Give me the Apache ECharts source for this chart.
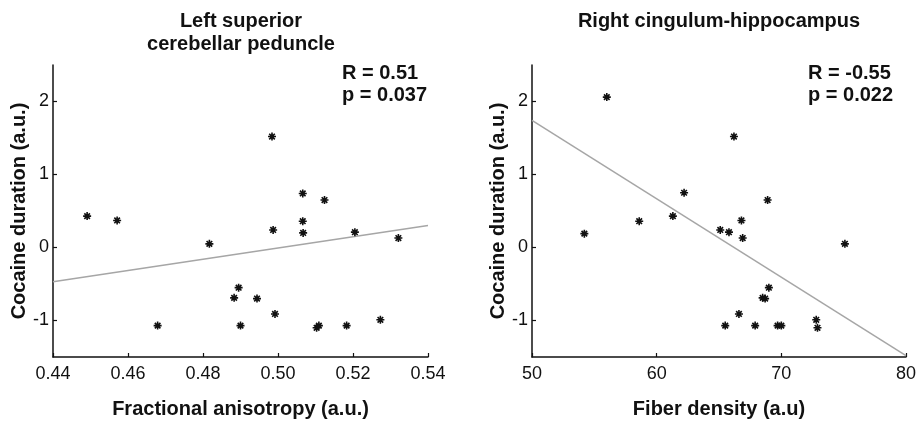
<!DOCTYPE html>
<html>
<head>
<meta charset="utf-8">
<script src="https://cdn.jsdelivr.net/npm/echarts@6/dist/echarts.min.js"></script>
<style>
  html, body { margin: 0; padding: 0; background: #fff; }
  #chart { width: 919px; height: 424px; }
</style>
</head>
<body>
<div id="chart"></div>
<script>
// left panel: fractional anisotropy vs cocaine duration
const faX = [0.4491, 0.4571, 0.4679, 0.4817, 0.4984, 0.4987, 0.4895, 0.4883, 0.4944, 0.4900, 0.4992,
  0.5066, 0.5066, 0.5067, 0.5124, 0.5205, 0.5321, 0.5103, 0.5109, 0.5183, 0.5273]
const faY = [0.43, 0.37, -1.07, 0.05, 1.52, 0.24, -0.55, -0.69, -0.70, -1.07, -0.91,
  0.74, 0.36, 0.20, 0.65, 0.21, 0.13, -1.10, -1.07, -1.07, -0.99]
const faFit = [[0.44, -0.47], [0.54, 0.30]]
const faTicks = [0.44, 0.46, 0.48, 0.50, 0.52, 0.54]

// right panel: fiber density vs cocaine duration
const fdX = [56.0, 54.2, 58.6, 61.3, 62.2, 65.1, 65.8, 66.8, 66.9, 66.2, 68.9,
  75.1, 69.0, 68.5, 68.7, 66.6, 65.5, 67.9, 69.7, 70.0, 72.8, 72.9]
const fdY = [2.06, 0.19, 0.36, 0.43, 0.75, 0.24, 0.21, 0.37, 0.13, 1.52, 0.65,
  0.05, -0.55, -0.69, -0.70, -0.91, -1.07, -1.07, -1.07, -1.07, -0.99, -1.10]
const fdFit = [[50, 1.74], [80, -1.48]]
const fdTicks = [50, 60, 70, 80]

const yTicks = [-1, 0, 1, 2]

const FONT = '"Liberation Sans", Arial, sans-serif'
// MATLAB-like asterisk marker
const STAR = 'path://M0 5L10 5M5 0L5 10M1.5 1.5L8.5 8.5M1.5 8.5L8.5 1.5'

const pairs = (xs, ys) => xs.map((x, i) => [x, ys[i]])

const axisBase = (min, max, ticks, fmt, margin) => ({
  type: 'value',
  min,
  max,
  axisLine: { show: true, onZero: false, lineStyle: { color: '#111', width: 1.5 } },
  axisTick: { show: true, inside: true, length: 4, customValues: ticks, lineStyle: { color: '#111', width: 1.2 } },
  axisLabel: { customValues: ticks, formatter: fmt, color: '#111', fontSize: 18, fontFamily: FONT, margin },
  splitLine: { show: false }
})

const nameStyle = { color: '#111', fontSize: 20, fontWeight: 'bold', fontFamily: FONT }
const boldText = { color: '#111', fontSize: 20, fontWeight: 'bold', fontFamily: FONT, lineHeight: 23 }
const starStyle = { color: 'rgba(0,0,0,0)', borderColor: '#111', borderWidth: 1.6, opacity: 1 }

const chart = echarts.init(document.getElementById('chart'))

chart.setOption({
  animation: false,
  title: [
    { text: 'Left superior\ncerebellar peduncle', left: 241, top: 10, textAlign: 'center', padding: 0, textStyle: boldText },
    { text: 'Right cingulum-hippocampus', left: 719, top: 10, textAlign: 'center', padding: 0, textStyle: boldText },
    { text: 'R = 0.51\np = 0.037', left: 342, top: 62, padding: 0, textStyle: { ...boldText, lineHeight: 22 } },
    { text: 'R = -0.55\np = 0.022', left: 808, top: 62, padding: 0, textStyle: { ...boldText, lineHeight: 22 } }
  ],
  grid: [
    { left: 53, right: 491, top: 65, bottom: 63 },
    { left: 532, right: 12, top: 65, bottom: 63 }
  ],
  xAxis: [
    {
      ...axisBase(0.44, 0.54, faTicks, v => v.toFixed(2), 8),
      gridIndex: 0,
      name: 'Fractional anisotropy (a.u.)',
      nameLocation: 'middle',
      nameGap: 42,
      nameTextStyle: nameStyle
    },
    {
      ...axisBase(50, 80, fdTicks, v => String(v), 8),
      gridIndex: 1,
      name: 'Fiber density (a.u)',
      nameLocation: 'middle',
      nameGap: 42,
      nameTextStyle: nameStyle
    }
  ],
  yAxis: [
    {
      ...axisBase(-1.5, 2.5, yTicks, v => String(v), 4),
      gridIndex: 0,
      name: 'Cocaine duration (a.u.)',
      nameLocation: 'middle',
      nameGap: 18,
      nameTextStyle: nameStyle
    },
    {
      ...axisBase(-1.5, 2.5, yTicks, v => String(v), 4),
      gridIndex: 1,
      name: 'Cocaine duration (a.u.)',
      nameLocation: 'middle',
      nameGap: 24,
      nameTextStyle: nameStyle
    }
  ],
  series: [
    {
      type: 'line', xAxisIndex: 0, yAxisIndex: 0, data: faFit, symbol: 'none', silent: true, z: 2,
      lineStyle: { color: '#a6a6a6', width: 1.5 }
    },
    {
      type: 'scatter', xAxisIndex: 0, yAxisIndex: 0, data: pairs(faX, faY), symbol: STAR, symbolSize: 8,
      silent: true, z: 3, itemStyle: starStyle
    },
    {
      type: 'line', xAxisIndex: 1, yAxisIndex: 1, data: fdFit, symbol: 'none', silent: true, z: 2,
      lineStyle: { color: '#a6a6a6', width: 1.5 }
    },
    {
      type: 'scatter', xAxisIndex: 1, yAxisIndex: 1, data: pairs(fdX, fdY), symbol: STAR, symbolSize: 8,
      silent: true, z: 3, itemStyle: starStyle
    }
  ]
})
</script>
</body>
</html>
